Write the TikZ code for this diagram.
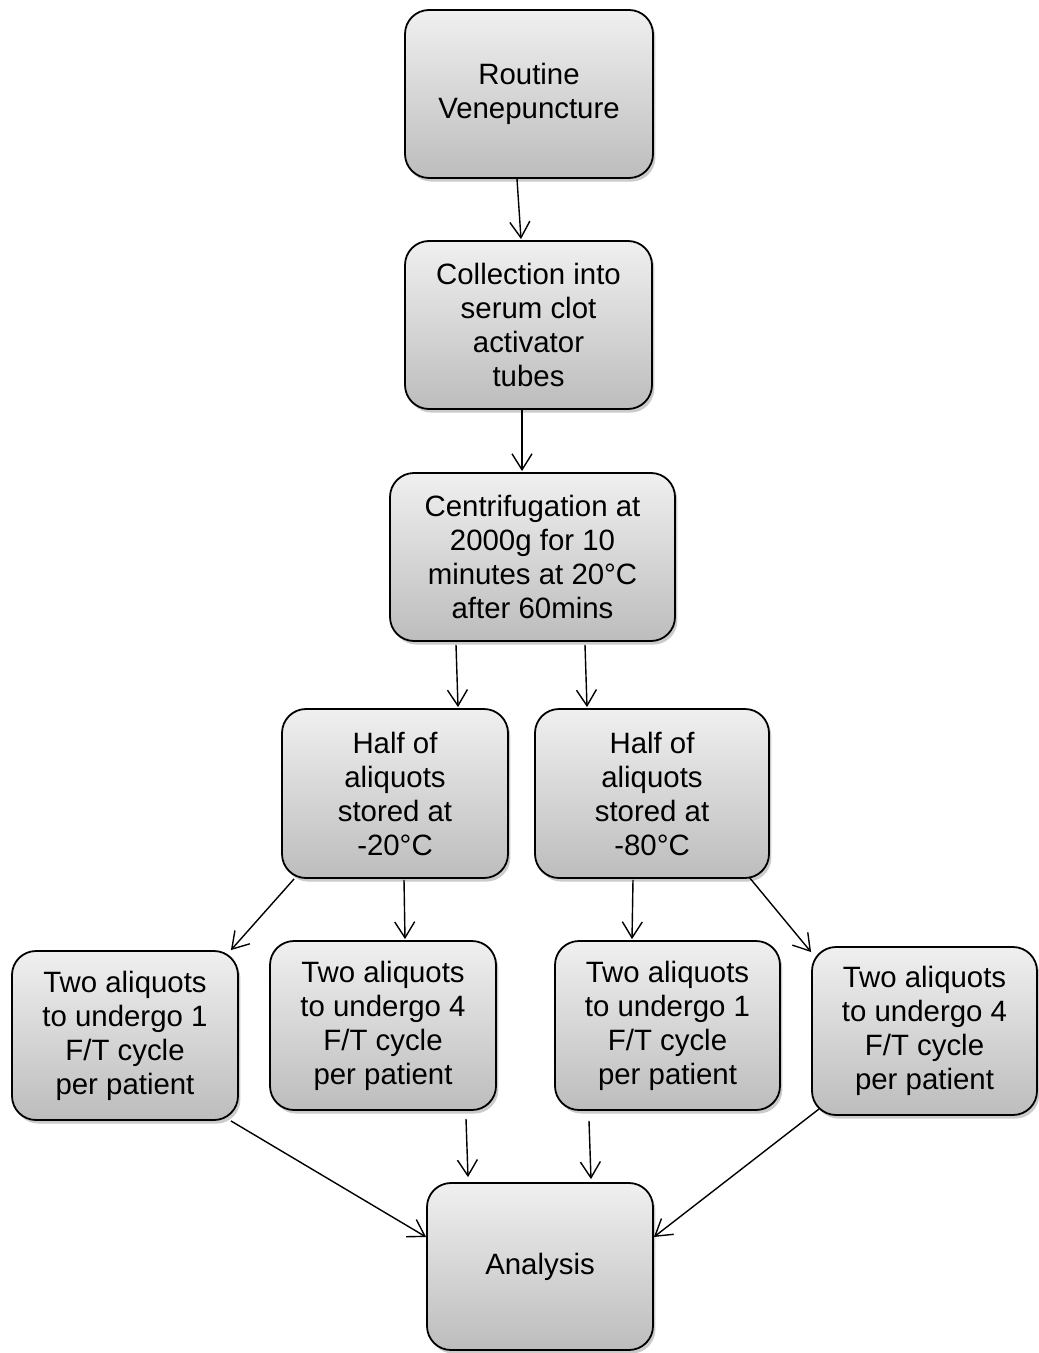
\documentclass[tikz,border=0pt]{standalone}
\usepackage{fontspec}
\setmainfont{Liberation Sans}
\usetikzlibrary{arrows.meta,shadows,calc}
\begin{document}
\begin{tikzpicture}[x=0.5pt,y=-0.5pt,
  box/.style={rounded corners=12pt, draw=black, line width=0.9pt,
    top color=black!6, bottom color=black!26,
    drop shadow={shadow xshift=1.2pt,shadow yshift=-1.8pt,fill=black!45,opacity=0.45},
    align=center, inner sep=0pt, font=\fontsize{14.7}{17}\selectfont},
  arr/.style={line width=0.7pt, -{Straight Barb[length=8pt,width=10pt]}}]
\useasboundingbox (0,0) rectangle (1038,1353);
\node[box, minimum width=124pt, minimum height=84pt] (n1) at (529,94) {Routine\\Venepuncture};
\node[box, minimum width=123.5pt, minimum height=84pt] (n2) at (528.5,325) {Collection into\\serum clot\\activator\\tubes};
\node[box, minimum width=142.5pt, minimum height=84pt] (n3) at (532.5,557) {Centrifugation at\\2000g for 10\\minutes at 20°C\\after 60mins};
\node[box, minimum width=113pt, minimum height=84.5pt] (n4) at (395,793.5) {Half of\\aliquots\\stored at\\-20°C};
\node[box, minimum width=117pt, minimum height=84.5pt] (n5) at (652,793.5) {Half of\\aliquots\\stored at\\-80°C};
\node[box, minimum width=113pt, minimum height=84.5pt] (n6) at (125,1035.5) {Two aliquots\\to undergo 1\\F/T cycle\\per patient};
\node[box, minimum width=113pt, minimum height=84.5pt] (n7) at (383,1025.5) {Two aliquots\\to undergo 4\\F/T cycle\\per patient};
\node[box, minimum width=112.5pt, minimum height=84.5pt] (n8) at (667.5,1025.5) {Two aliquots\\to undergo 1\\F/T cycle\\per patient};
\node[box, minimum width=112.5pt, minimum height=84pt] (n9) at (924.5,1031) {Two aliquots\\to undergo 4\\F/T cycle\\per patient};
\node[box, minimum width=113pt, minimum height=83.5pt] (n10) at (540,1266.5) {Analysis};
\draw[arr] ($(n1.south)+(-12,0)$) -- ($(n2.north)+(-7.5,-1)$);
\draw[arr] ($(n2.south)+(-6.5,0)$) -- ($(n3.north)+(-10.5,-1)$);
\draw[arr] ($(n3.south)+(-76.5,3)$) -- ($(n4.north)+(63,-1)$);
\draw[arr] ($(n3.south)+(52.5,3)$) -- ($(n5.north)+(-65,-1)$);
\draw[arr] ($(n4.south west)+(13,0)$) -- ($(n6.north east)+(-8,0)$);
\draw[arr] ($(n4.south)+(9,1)$) -- ($(n7.north)+(22,-1)$);
\draw[arr] ($(n5.south)+(-19,1)$) -- ($(n8.north)+(-35.5,-1)$);
\draw[arr] ($(n5.south east)+(-21,-2)$) -- ($(n9.north west)+(0,6)$);
\draw[arr] ($(n6.south east)+(-8,0)$) -- ($(n10.west)+(0,-29.5)$);
\draw[arr] ($(n7.south)+(83,8)$) -- ($(n10.north)+(-72,-5)$);
\draw[arr] ($(n8.south)+(-78.5,10)$) -- ($(n10.north)+(51,-3)$);
\draw[arr] ($(n9.south west)+(8,-7)$) -- ($(n10.east)+(0,-29.5)$);
\end{tikzpicture}
\end{document}
